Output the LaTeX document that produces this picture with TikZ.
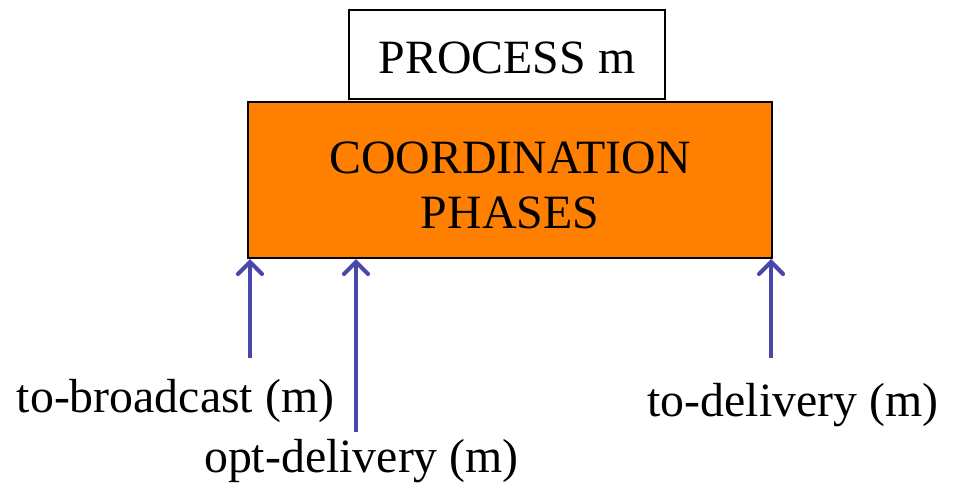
\documentclass[tikz,border=0pt]{standalone}
\usepackage{fontspec}
\setmainfont{Liberation Serif}
\usepackage{xcolor}
\usetikzlibrary{arrows.meta, positioning}

\definecolor{phaseorange}{RGB}{255,127,0}
\definecolor{arrowblue}{RGB}{72,72,170}

\tikzset{
  box/.style={draw, line width=1.4pt, inner sep=0pt, align=center},
  upArrow/.style={->, line width=3pt, arrowblue},
  lbl/.style={anchor=base, inner sep=0pt}
}

\begin{document}
\begin{tikzpicture}[x=0.025cm, y=-0.025cm,
    >={Straight Barb[length=8.5pt, width=17pt, line cap=round]},
    every node/.style={font=\fontsize{34}{39}\selectfont}]
        \useasboundingbox (0,0) rectangle (957,482);

        % boxes
        \node[box, fill=phaseorange, minimum width=13.1cm, minimum height=3.9cm] (coord) at (510,180)
              {\\[-9pt]COORDINATION\\PHASES};
        \node[box, fill=white, minimum width=7.9cm, minimum height=2.225cm,
              text height=27.6pt, text depth=0pt] (proc) at (507,54.5) {PROCESS m};

        % arrows into the coordination phases
        \coordinate (bcBase) at (250,358);
        \coordinate (optBase) at (356,432);
        \coordinate (tdBase) at (771,358);
        \foreach \c in {bcBase, optBase, tdBase} {
            \draw[upArrow] (\c) -- (\c |- coord.south);
        }

        % labels
        \node[lbl] (bcLabel) at (175.5,412) {to-broadcast (m)};
        \node[lbl] (optLabel) at (361.5,472) {opt-delivery (m)};
        \node[lbl] (tdLabel) at (793,416) {to-delivery (m)};
    \end{tikzpicture}
\end{document}
